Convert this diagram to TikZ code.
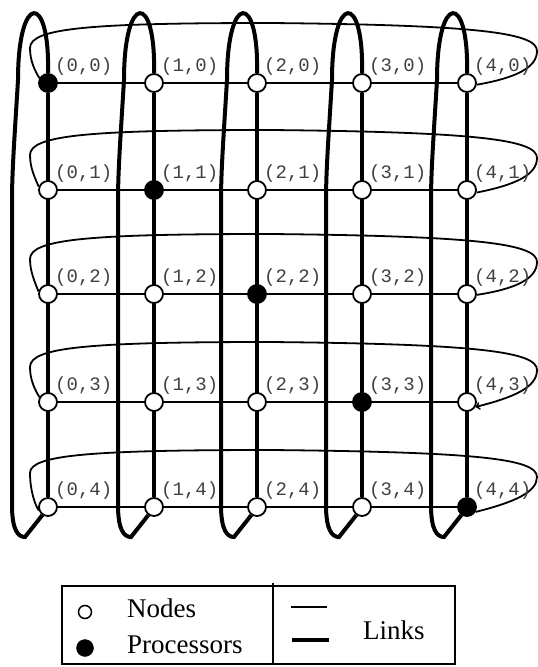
\documentclass[tikz,border=0pt]{standalone}
\usepackage{fontspec}
\setmainfont{Liberation Serif}
\newfontfamily\lblfont{Liberation Mono}
\usepackage{tikz}
\usetikzlibrary{backgrounds}

\begin{document}
\begin{tikzpicture}[
        x=1pt, y=-1pt,
        nd/.style={circle, draw, line width=1.8pt, fill=white, minimum size=18pt, inner sep=0pt, label distance=1pt},
        proc/.style={nd, fill=black},
        lbl/.style={font=\lblfont\fontsize{19}{19}\selectfont, text=black!75, inner sep=0pt},
        hlink/.style={line width=1.8pt},
        vlink/.style={line width=4pt},
        legtext/.style={font=\fontsize{27}{27}\selectfont, inner sep=0pt},
    ]
        \useasboundingbox (0,0) rectangle (538,667);

        % grid nodes
        \node[proc, label={[lbl]above right:{(0,0)}}] (n00) at (48,83) {};
        \node[nd, label={[lbl]above right:{(1,0)}}] (n10) at (154,83) {};
        \node[nd, label={[lbl]above right:{(2,0)}}] (n20) at (257,83) {};
        \node[nd, label={[lbl]above right:{(3,0)}}] (n30) at (362,83) {};
        \node[nd, label={[lbl]above right:{(4,0)}}] (n40) at (467,83) {};

        \node[nd, label={[lbl]above right:{(0,1)}}] (n01) at (48,190) {};
        \node[proc, label={[lbl]above right:{(1,1)}}] (n11) at (154,190) {};
        \node[nd, label={[lbl]above right:{(2,1)}}] (n21) at (257,190) {};
        \node[nd, label={[lbl]above right:{(3,1)}}] (n31) at (362,190) {};
        \node[nd, label={[lbl]above right:{(4,1)}}] (n41) at (467,190) {};

        \node[nd, label={[lbl]above right:{(0,2)}}] (n02) at (48,294) {};
        \node[nd, label={[lbl]above right:{(1,2)}}] (n12) at (154,294) {};
        \node[proc, label={[lbl]above right:{(2,2)}}] (n22) at (257,294) {};
        \node[nd, label={[lbl]above right:{(3,2)}}] (n32) at (362,294) {};
        \node[nd, label={[lbl]above right:{(4,2)}}] (n42) at (467,294) {};

        \node[nd, label={[lbl]above right:{(0,3)}}] (n03) at (48,402) {};
        \node[nd, label={[lbl]above right:{(1,3)}}] (n13) at (154,402) {};
        \node[nd, label={[lbl]above right:{(2,3)}}] (n23) at (257,402) {};
        \node[proc, label={[lbl]above right:{(3,3)}}] (n33) at (362,402) {};
        \node[nd, label={[lbl]above right:{(4,3)}}] (n43) at (467,402) {};

        \node[nd, label={[lbl]above right:{(0,4)}}] (n04) at (48,507) {};
        \node[nd, label={[lbl]above right:{(1,4)}}] (n14) at (154,507) {};
        \node[nd, label={[lbl]above right:{(2,4)}}] (n24) at (257,507) {};
        \node[nd, label={[lbl]above right:{(3,4)}}] (n34) at (362,507) {};
        \node[proc, label={[lbl]above right:{(4,4)}}] (n44) at (467,507) {};

        \begin{scope}[on background layer]
        % straight links
        \draw[hlink] (n00) -- (n40);
        \draw[hlink] (n01) -- (n41);
        \draw[hlink] (n02) -- (n42);
        \draw[hlink] (n03) -- (n43);
        \draw[hlink] (n04) -- (n44);
        \draw[vlink] (n00) -- (n04);
        \draw[vlink] (n10) -- (n14);
        \draw[vlink] (n20) -- (n24);
        \draw[vlink] (n30) -- (n34);
        \draw[vlink] (n40) -- (n44);

        % wrap-around, columns
        \draw[vlink] (n00.north) .. controls (50,-8) and (18,-8) .. (18,80) .. controls (15,130) and (12,170) .. (12,200) -- (12,505) .. controls (12,530) and (18,537) .. (25,537) -- (n04.-125);
        \draw[vlink] (n10.north) .. controls (156,-8) and (124,-8) .. (124,80) .. controls (121,130) and (118,170) .. (118,200) -- (118,505) .. controls (118,530) and (124,537) .. (131,537) -- (n14.-125);
        \draw[vlink] (n20.north) .. controls (259,-8) and (227,-8) .. (227,80) .. controls (224,130) and (221,170) .. (221,200) -- (221,505) .. controls (221,530) and (227,537) .. (234,537) -- (n24.-125);
        \draw[vlink] (n30.north) .. controls (364,-8) and (332,-8) .. (332,80) .. controls (329,130) and (326,170) .. (326,200) -- (326,505) .. controls (326,530) and (332,537) .. (339,537) -- (n34.-125);
        \draw[vlink] (n40.north) .. controls (469,-8) and (437,-8) .. (437,80) .. controls (434,130) and (431,170) .. (431,200) -- (431,505) .. controls (431,530) and (437,537) .. (444,537) -- (n44.-125);

        % wrap-around, rows
        \draw[hlink] (n40.-10) .. controls (515,78) and (537,68) .. (537,51) .. controls (537,33) and (480,25) .. (270,23) .. controls (90,23) and (30,28) .. (30,48) .. controls (30,61) and (35,71) .. (n00.150);
        \draw[hlink] (n41.-15) .. controls (515,185) and (537,175) .. (537,158) .. controls (537,140) and (480,132) .. (270,130) .. controls (90,130) and (30,135) .. (30,155) .. controls (30,168) and (35,178) .. (n01.160);
        \draw[hlink] (n42.-5) .. controls (515,289) and (537,279) .. (537,262) .. controls (537,244) and (480,236) .. (270,234) .. controls (90,234) and (30,239) .. (30,259) .. controls (30,272) and (35,282) .. (n02.165);
        \draw[hlink, <-] (n43.-30) .. controls (515,397) and (537,387) .. (537,370) .. controls (537,352) and (480,344) .. (270,342) .. controls (90,342) and (30,347) .. (30,367) .. controls (30,380) and (35,390) .. (n03.150);
        \draw[hlink] (n44.-30) .. controls (515,502) and (537,492) .. (537,477) .. controls (537,459) and (480,452) .. (270,450) .. controls (90,450) and (30,455) .. (30,473) .. controls (30,490) and (35,505) .. (n04.200);
        \end{scope}

        % Legend
        \draw[line width=1.5pt] (62,586) rectangle (455,664);
        \draw[line width=1.5pt] (273,583) -- (273,664);
        \node[circle, draw, line width=1.5pt, minimum size=13pt, inner sep=0pt] (kn) at (85,612) {};
        \node[circle, draw, fill=black, minimum size=17pt, inner sep=0pt] (kp) at (85,648) {};
        \node[legtext, anchor=base west] (tn) at (127,617) {Nodes};
        \node[legtext, anchor=base west] (tp) at (127,653) {Processors};
        \coordinate (la) at (291,607);
        \coordinate (lb) at (327,607);
        \coordinate (lc) at (292,640);
        \coordinate (ld) at (329,640);
        \draw[line width=1.8pt] (la) -- (lb);
        \draw[line width=4pt] (lc) -- (ld);
        \node[legtext, anchor=base west] (tl) at (363,639) {Links};
    \end{tikzpicture}
\end{document}
